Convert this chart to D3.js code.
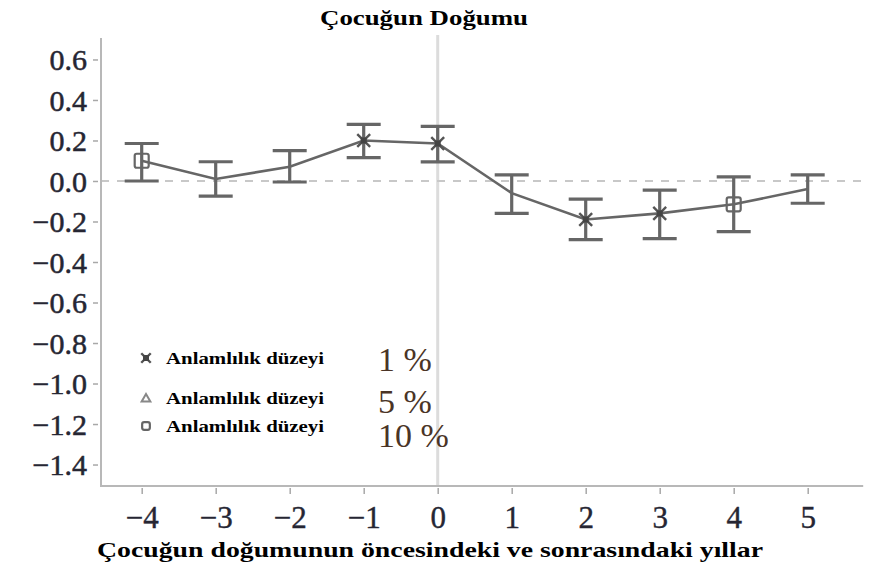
<!DOCTYPE html>
<html><head><meta charset="utf-8">
<script src="https://cdn.jsdelivr.net/npm/d3@7"></script>
<style>
html,body{margin:0;padding:0;background:#fff;}
svg{display:block;}
</style></head>
<body>
<svg id="chart" width="877" height="569"></svg>
<script>
const chartTitle = "Çocuğun Doğumu";
const xAxisTitle = "Çocuğun doğumunun öncesindeki ve sonrasındaki yıllar";
const years = [-4, -3, -2, -1, 0, 1, 2, 3, 4, 5];
const estimates = [0.10, 0.01, 0.07, 0.20, 0.185, -0.06, -0.19, -0.16, -0.115, -0.04];
const upperCI = [0.185, 0.095, 0.15, 0.28, 0.27, 0.03, -0.09, -0.045, 0.02, 0.03];
const lowerCI = [0.0, -0.075, -0.005, 0.115, 0.094, -0.16, -0.29, -0.285, -0.25, -0.11];
const significance = ["10", "", "", "1", "1", "", "1", "1", "10", ""];
const yTicks = [0.6, 0.4, 0.2, 0.0, -0.2, -0.4, -0.6, -0.8, -1.0, -1.2, -1.4];
const xTicks = [-4, -3, -2, -1, 0, 1, 2, 3, 4, 5];
const legendLabels = ["Anlamlılık düzeyi", "Anlamlılık düzeyi", "Anlamlılık düzeyi"];
const legendLevels = ["1 %", "5 %", "10 %"];
const legendSymbols = ["1", "5", "10"];

const svg = d3.select("#chart");
const pL = 101, pR = 863.2, pT = 38, pB = 486;
const x = d3.scaleLinear().domain([-4.55, 5.75]).range([pL, pR]);
const y = d3.scaleLinear().domain([-1.506, 0.706]).range([pB, pT]);

const gray = "#666666";
const serif = "'Liberation Serif', 'Times New Roman', serif";

// vertical line at 0
svg.append("line").attr("x1", x(0)).attr("x2", x(0)).attr("y1", pT - 3).attr("y2", pB)
  .attr("stroke", "#dcdcdc").attr("stroke-width", 3);
// zero dashed line
svg.append("line").attr("x1", pL).attr("x2", pR).attr("y1", y(0)).attr("y2", y(0))
  .attr("stroke", "#c8c8c8").attr("stroke-width", 2).attr("stroke-dasharray", "8,8");

// axes
const yAxis = d3.axisLeft(y).tickValues(yTicks).tickFormat(d3.format(".1f")).tickSize(5).tickPadding(6);
const gy = svg.append("g").attr("transform", `translate(${pL - 3},0)`).call(yAxis)
  .attr("font-family", null).attr("font-size", null);
gy.select(".domain").remove();
gy.selectAll(".tick line").attr("stroke", "#a8a8a8").attr("stroke-width", 1.5);
gy.selectAll(".tick text").style("font-family", serif).style("font-size", "30px")
  .attr("fill", "#262633").attr("stroke", "#262633").attr("stroke-width", 0.5).attr("dy", "0.34em");

const xAxis = d3.axisBottom(x).tickValues(xTicks).tickFormat(d3.format("d")).tickSize(6).tickPadding(12);
const gx = svg.append("g").attr("transform", `translate(0,${pB + 2})`).call(xAxis)
  .attr("font-family", null).attr("font-size", null);
gx.select(".domain").remove();
gx.selectAll(".tick line").attr("stroke", "#a8a8a8").attr("stroke-width", 1.5);
gx.selectAll(".tick text").style("font-family", serif).style("font-size", "31px")
  .attr("fill", "#262633").attr("stroke", "#262633").attr("stroke-width", 0.4);

// frame lines (left and bottom)
svg.append("path").attr("d", `M${pL},${pT}V${pB}H${pR}`)
  .attr("fill", "none").attr("stroke", "#b8b8b8").attr("stroke-width", 2);

// connecting line
const line = d3.line().x((d, i) => x(years[i])).y(d => y(d));
svg.append("path").datum(estimates).attr("d", line)
  .attr("fill", "none").attr("stroke", gray).attr("stroke-width", 2.6);

// error bars
const capW = 17;
const eb = svg.append("g").attr("stroke", gray).attr("stroke-width", 3.2).attr("fill", "none");
years.forEach((yr, i) => {
  const cx = x(yr);
  eb.append("line").attr("x1", cx).attr("x2", cx).attr("y1", y(upperCI[i])).attr("y2", y(lowerCI[i]));
  eb.append("line").attr("x1", cx - capW).attr("x2", cx + capW).attr("y1", y(upperCI[i])).attr("y2", y(upperCI[i]));
  eb.append("line").attr("x1", cx - capW).attr("x2", cx + capW).attr("y1", y(lowerCI[i])).attr("y2", y(lowerCI[i]));
});

function drawSymbol(g, kind, cx, cy, scale) {
  if (kind === "1") {
    g.append("path").attr("d", d3.symbol(d3.symbolX, 110 * scale)())
      .attr("transform", `translate(${cx},${cy})`).attr("stroke", "#555").attr("stroke-width", 2.4).attr("fill", "none");
    g.append("rect").attr("x", cx - 3).attr("y", cy - 3).attr("width", 6).attr("height", 6).attr("fill", "#444");
  } else if (kind === "5") {
    g.append("path").attr("d", d3.symbol(d3.symbolTriangle, 60 * scale)())
      .attr("transform", `translate(${cx},${cy + 1})`).attr("stroke", "#888").attr("stroke-width", 2).attr("fill", "none");
  } else if (kind === "10") {
    const s = 7 * scale;
    g.append("rect").attr("x", cx - s).attr("y", cy - s).attr("width", 2 * s).attr("height", 2 * s).attr("rx", 2)
      .attr("stroke", "#666").attr("stroke-width", 2.2).attr("fill", "none");
  }
}
const marks = svg.append("g");
years.forEach((yr, i) => {
  if (significance[i]) drawSymbol(marks, significance[i], x(yr), y(estimates[i]), 1);
});

// title
svg.append("text").attr("x", 424).attr("y", 25).attr("text-anchor", "middle")
  .style("font-family", serif).attr("font-weight", "bold").attr("font-size", 22)
  .attr("textLength", 208).attr("lengthAdjust", "spacingAndGlyphs").attr("fill", "#000").text(chartTitle);

// x axis title
svg.append("text").attr("x", 97).attr("y", 557)
  .style("font-family", serif).attr("font-weight", "bold").attr("font-size", 22)
  .attr("textLength", 666).attr("lengthAdjust", "spacingAndGlyphs").attr("fill", "#000").text(xAxisTitle);

// legend
const legLabelY = [358, 398, 426];
const legLevelY = [360, 402, 436];
const leg = svg.append("g");
legendLabels.forEach((lab, i) => {
  drawSymbol(leg, legendSymbols[i], 146, legLabelY[i], 0.55);
  leg.append("text").attr("x", 166).attr("y", legLabelY[i]).attr("dy", "0.33em")
    .style("font-family", serif).attr("font-weight", "bold").attr("font-size", 17)
    .attr("textLength", 158).attr("lengthAdjust", "spacingAndGlyphs").attr("fill", "#000").text(lab);
  leg.append("text").attr("x", 378).attr("y", legLevelY[i]).attr("dy", "0.33em")
    .style("font-family", serif).attr("font-size", 34)
    .attr("fill", "#4a3426").text(legendLevels[i]);
});
</script>
</body></html>
